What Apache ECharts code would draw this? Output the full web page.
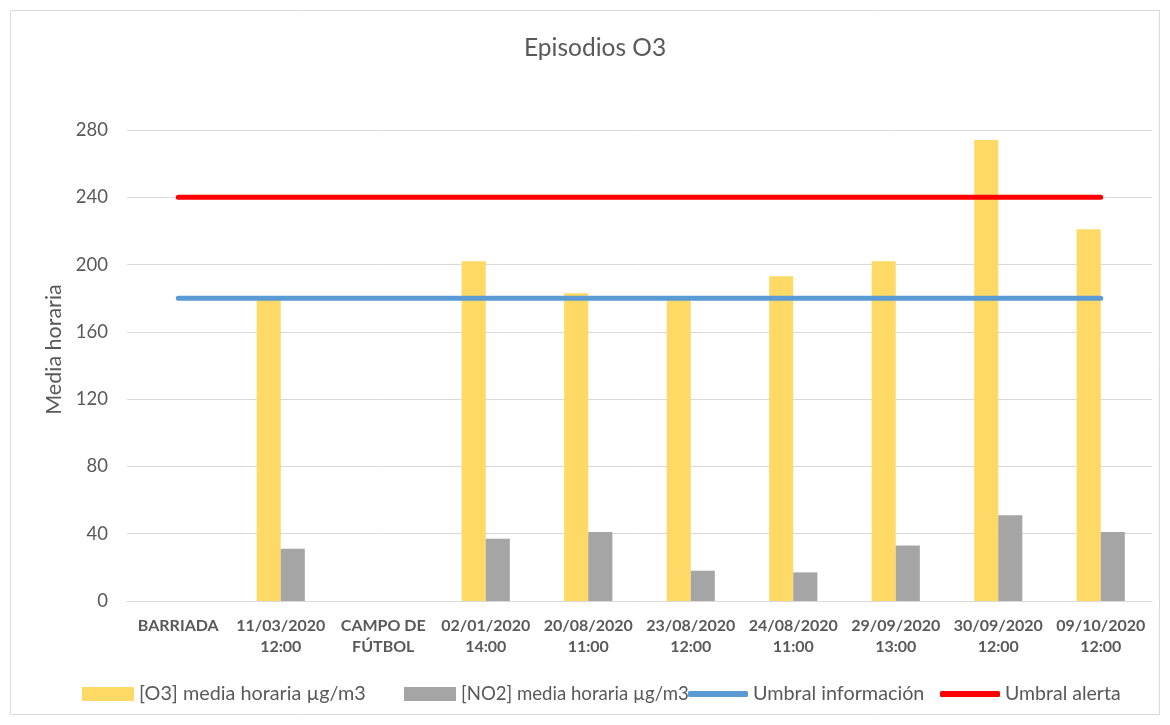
<!DOCTYPE html>
<html><head><meta charset="utf-8">
<script src="https://cdn.jsdelivr.net/npm/echarts@6/dist/echarts.min.js"></script>
<style>html,body{margin:0;padding:0;background:#fff}#c{width:1170px;height:725px}</style>
</head><body><div id="c"></div>
<script>
const categories = ['BARRIADA','11/03/2020\n12:00','CAMPO DE\nFÚTBOL','02/01/2020\n14:00','20/08/2020\n11:00','23/08/2020\n12:00','24/08/2020\n11:00','29/09/2020\n13:00','30/09/2020\n12:00','09/10/2020\n12:00'];
const o3Values = [null,179,null,202,183,179,193,202,274,221];
const no2Values = [null,31,null,37,41,18,17,33,51,41];
const umbralInfo = [180,180,180,180,180,180,180,180,180,180];
const umbralAlerta = [240,240,240,240,240,240,240,240,240,240];
const yTicks = {min:0,max:280,interval:40};
const seriesNames = ['[O3] media horaria µg/m3','[NO2] media horaria µg/m3','Umbral información','Umbral alerta'];

const txt = '#595959', font = 'Lato';
function leg(name, left, isLine, fs){
  return {data:[name],left:left,top:682,padding:0,itemGap:0,
    itemWidth:isLine?60:52,itemHeight:isLine?6:14,icon:isLine?'roundRect':'rect',
    textStyle:{fontFamily:font,fontSize:fs,color:txt,lineHeight:24}};
}
const chart = echarts.init(document.getElementById('c'));
chart.setOption({
  animation:false,
  textStyle:{fontFamily:font},
  graphic:[{type:'rect',shape:{x:10.5,y:10.5,width:1149,height:704},style:{fill:'none',stroke:'#D9D9D9',lineWidth:1},silent:true}],
  title:{text:'Episodios O3',left:519,top:31,textStyle:{fontFamily:font,fontSize:24.5,fontWeight:'normal',color:txt}},
  grid:{left:127,right:18,top:130,bottom:124,containLabel:false},
  legend:[leg(seriesNames[0],82,false,19.8),leg(seriesNames[1],404,false,18.6),leg(seriesNames[2],688,true,19.8),leg(seriesNames[3],940,true,19.5)],
  xAxis:{type:'category',data:categories,boundaryGap:true,
    axisLine:{lineStyle:{color:'#D9D9D9',width:1}},axisTick:{show:false},
    axisLabel:{interval:0,color:txt,fontFamily:font,fontSize:16,fontWeight:'bold',lineHeight:21,margin:14}},
  yAxis:{type:'value',min:yTicks.min,max:yTicks.max,interval:yTicks.interval,
    name:'Media horaria',nameLocation:'middle',nameGap:56,nameTextStyle:{color:txt,fontFamily:font,fontSize:21.5,padding:[0,0,0,32]},
    axisLine:{show:false},axisTick:{show:false},
    axisLabel:{color:txt,fontFamily:font,fontSize:18.5,margin:19},
    splitLine:{lineStyle:{color:'#D9D9D9',width:1}}},
  series:[
    {name:seriesNames[0],type:'bar',data:o3Values,itemStyle:{color:'#FFD966'},barGap:'0%',barCategoryGap:'53%'},
    {name:seriesNames[1],type:'bar',data:no2Values,itemStyle:{color:'#A5A5A5'}},
    {name:seriesNames[2],type:'line',data:umbralInfo,symbol:'none',lineStyle:{color:'#5B9BD5',width:5,cap:'round'},itemStyle:{color:'#5B9BD5'}},
    {name:seriesNames[3],type:'line',data:umbralAlerta,symbol:'none',lineStyle:{color:'#FF0000',width:5,cap:'round'},itemStyle:{color:'#FF0000'}}
  ]
});
</script></body></html>
